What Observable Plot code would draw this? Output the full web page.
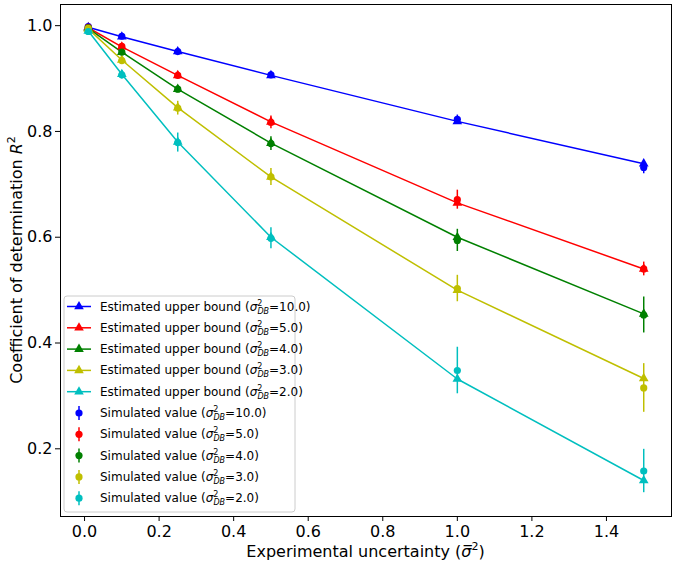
<!DOCTYPE html>
<html>
<head>
<meta charset="utf-8">
<script src="https://cdn.jsdelivr.net/npm/d3@7"></script>
<script src="https://cdn.jsdelivr.net/npm/@observablehq/plot@0.6"></script>
<style>
  html, body { margin: 0; padding: 0; background: #fff; }
  #chart svg { display: block; }
</style>
</head>
<body>
<div id="chart"></div>
<script>
// ---- data ----
const xs = [0.01, 0.1, 0.25, 0.5, 1.0, 1.5];
const seriesLabels = ["10.0", "5.0", "4.0", "3.0", "2.0"];
const seriesColors = ["#0000ff", "#ff0000", "#008000", "#bfbf00", "#00bfbf"];

// estimated upper bound (lines with triangles)
const est10 = [0.997, 0.979, 0.951, 0.906, 0.819, 0.739];
const est5  = [0.996, 0.960, 0.906, 0.818, 0.665, 0.540];
const est4  = [0.995, 0.950, 0.880, 0.778, 0.600, 0.455];
const est3  = [0.994, 0.935, 0.845, 0.714, 0.500, 0.333];
const est2  = [0.990, 0.908, 0.780, 0.600, 0.332, 0.140];

// simulated values (dots) and their error half-widths
const sim10 = [0.998, 0.980, 0.951, 0.907, 0.823, 0.732];
const sim5  = [0.997, 0.961, 0.906, 0.817, 0.671, 0.540];
const sim4  = [0.996, 0.950, 0.880, 0.777, 0.594, 0.453];
const sim3  = [0.995, 0.934, 0.844, 0.714, 0.503, 0.315];
const sim2  = [0.989, 0.907, 0.779, 0.598, 0.348, 0.158];

const err10 = [0.003, 0.004, 0.004, 0.006, 0.008, 0.012];
const err5  = [0.003, 0.005, 0.007, 0.012, 0.018, 0.013];
const err4  = [0.003, 0.006, 0.007, 0.013, 0.021, 0.034];
const err3  = [0.004, 0.007, 0.013, 0.016, 0.025, 0.046];
const err2  = [0.004, 0.008, 0.018, 0.020, 0.044, 0.041];

const xTicks = [0.0, 0.2, 0.4, 0.6, 0.8, 1.0, 1.2, 1.4];
const yTicks = [0.2, 0.4, 0.6, 0.8, 1.0];

// ---- build table ----
const estAll = [est10, est5, est4, est3, est2];
const simAll = [sim10, sim5, sim4, sim3, sim2];
const errAll = [err10, err5, err4, err3, err2];
const rows = [];
seriesLabels.forEach((s, i) => {
  xs.forEach((x, j) => {
    rows.push({series: s, x, est: estAll[i][j], sim: simAll[i][j], err: errAll[i][j]});
  });
});

const W = 675, H = 564;
const mL = 60, mR = 4, mT = 4, mB = 48;
const fmt = d3.format(".1f");

const chart = Plot.plot({
  width: W, height: H,
  marginLeft: mL, marginRight: mR, marginTop: mT, marginBottom: mB,
  style: {fontFamily: "DejaVu Sans, sans-serif", fontSize: "16px", background: "#fff", color: "#000"},
  x: {domain: [-0.0645, 1.5745]},
  y: {domain: [0.072, 1.040]},
  color: {domain: seriesLabels, range: seriesColors},
  marks: [
    Plot.axisX({ticks: xTicks, tickFormat: fmt, tickSize: 5, tickPadding: 4, label: null, stroke: "#000", fill: "#000"}),
    Plot.axisY({ticks: yTicks, tickFormat: fmt, tickSize: 5, tickPadding: 3, label: null, stroke: "#000", fill: "#000"}),
    Plot.line(rows, {x: "x", y: "est", z: "series", stroke: "series", strokeWidth: 1.5}),
    Plot.dot(rows, {x: "x", y: "est", fill: "series", symbol: "triangle", r: 3.6, stroke: "none"}),
    Plot.ruleX(rows, {x: "x", y1: d => d.sim - d.err, y2: d => d.sim + d.err, stroke: "series", strokeWidth: 1.5}),
    Plot.dot(rows, {x: "x", y: "sim", fill: "series", r: 3.6, stroke: "none"}),
    Plot.frame({stroke: "#000", strokeWidth: 1})
  ]
});
document.getElementById("chart").appendChild(chart);

// ---- axis labels ----
const svg = d3.select(chart);
const plotCx = mL + (W - mL - mR) / 2;
const plotCy = mT + (H - mT - mB) / 2;

const xl = svg.append("text")
  .attr("x", plotCx).attr("y", 557)
  .attr("text-anchor", "middle")
  .attr("font-family", "DejaVu Sans, sans-serif")
  .attr("font-size", 16).attr("fill", "#000");
xl.append("tspan").text("Experimental uncertainty (");
xl.append("tspan").attr("font-style", "italic").text("σ\u0305");
xl.append("tspan").attr("font-size", 11).attr("dy", -7).text("2");
xl.append("tspan").attr("dy", 7).text(")");

const yl = svg.append("text")
  .attr("transform", `translate(22,${plotCy}) rotate(-90)`)
  .attr("text-anchor", "middle")
  .attr("font-family", "DejaVu Sans, sans-serif")
  .attr("font-size", 16).attr("fill", "#000");
yl.append("tspan").text("Coefficient of determination ");
yl.append("tspan").attr("font-style", "italic").text("R");
yl.append("tspan").attr("font-size", 11).attr("dy", -7).text("2");

// ---- legend ----
const lg = svg.append("g").attr("text-anchor", "start");
const lgX = 64, lgY = 296, lgW = 231, lgH = 216;
lg.append("rect")
  .attr("x", lgX).attr("y", lgY).attr("width", lgW).attr("height", lgH)
  .attr("rx", 3).attr("fill", "#fff").attr("fill-opacity", 0.8)
  .attr("stroke", "#cccccc").attr("stroke-width", 1);

const rowH = 21.3, firstY = 306.5;
const entries = [];
seriesLabels.forEach((s, i) => entries.push({kind: "est", s, c: seriesColors[i]}));
seriesLabels.forEach((s, i) => entries.push({kind: "sim", s, c: seriesColors[i]}));

entries.forEach((e, k) => {
  const cy = firstY + k * rowH;
  if (e.kind === "est") {
    lg.append("line").attr("x1", 67).attr("x2", 91).attr("y1", cy).attr("y2", cy)
      .attr("stroke", e.c).attr("stroke-width", 1.5);
    lg.append("path").attr("d", d3.symbol(d3.symbolTriangle, 40)())
      .attr("transform", `translate(79,${cy})`).attr("fill", e.c);
  } else {
    lg.append("line").attr("x1", 79).attr("x2", 79).attr("y1", cy - 7).attr("y2", cy + 7)
      .attr("stroke", e.c).attr("stroke-width", 1.5);
    lg.append("circle").attr("cx", 79).attr("cy", cy).attr("r", 3.6).attr("fill", e.c);
  }
  const t = lg.append("text")
    .attr("x", 100).attr("y", cy + 4)
    .attr("text-anchor", "start")
    .attr("font-family", "DejaVu Sans, sans-serif")
    .attr("font-size", 12).attr("fill", "#000");
  t.append("tspan").text(e.kind === "est" ? "Estimated upper bound (" : "Simulated value (");
  t.append("tspan").attr("font-style", "italic").text("σ");
  t.append("tspan").attr("font-size", 8).attr("dy", -5).text("2");
  t.append("tspan").attr("font-size", 8).attr("font-style", "italic").attr("dx", -5).attr("dy", 8).text("DB");
  t.append("tspan").attr("dy", -3).text("=" + e.s + ")");
});
</script>
</body>
</html>
